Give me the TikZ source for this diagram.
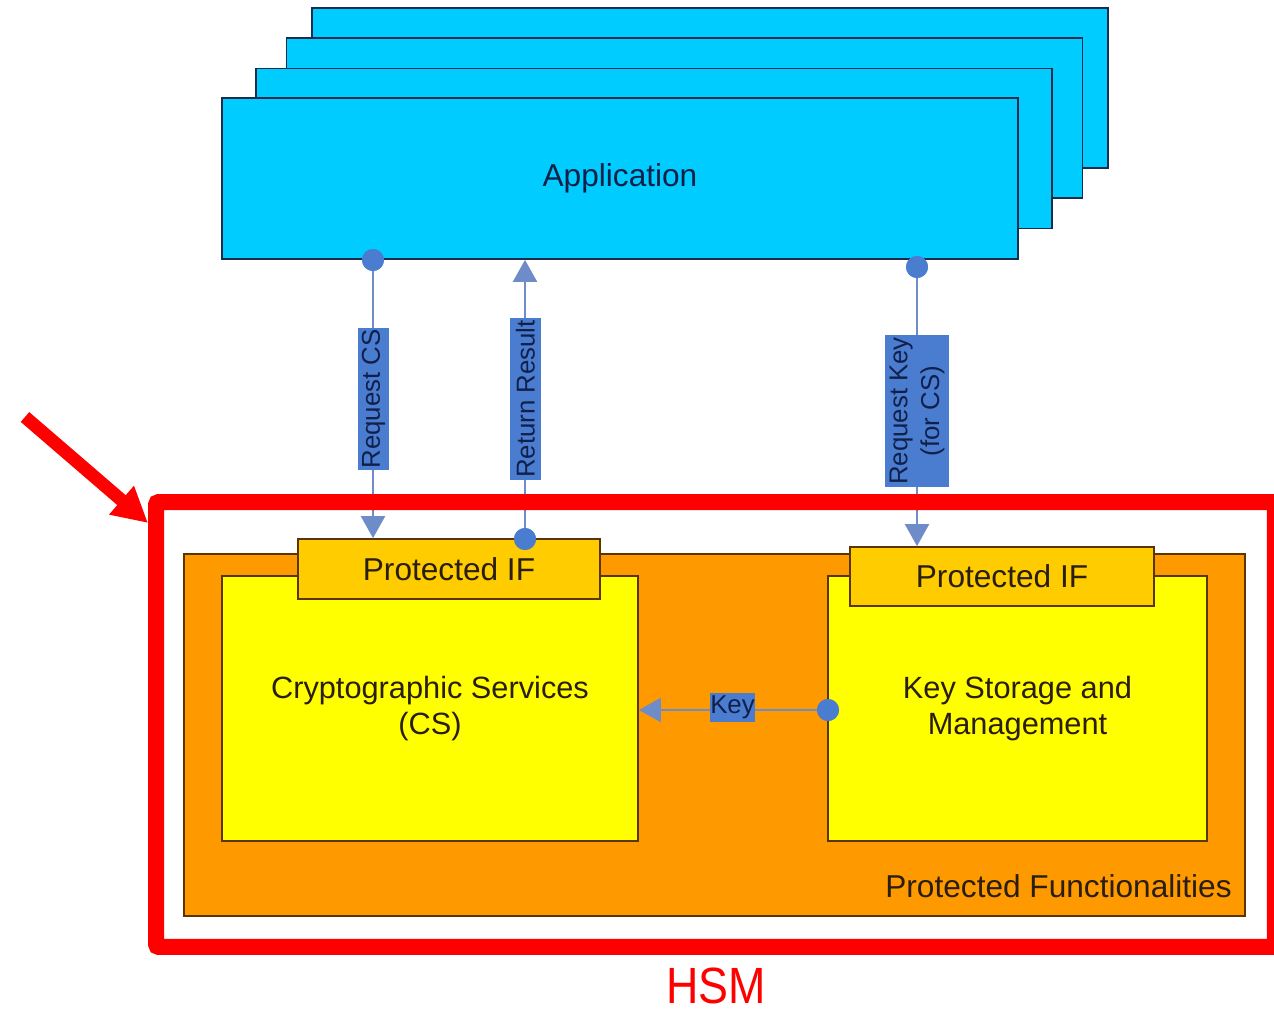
\documentclass[tikz,border=0pt]{standalone}
\usepackage{fontspec}
\setmainfont{Liberation Sans}
\newfontfamily\hsmfont[FakeStretch=0.88]{Liberation Sans}
\usetikzlibrary{arrows.meta}
\definecolor{appcyan}{HTML}{00CCFF}
\definecolor{appedge}{HTML}{1A2C4C}
\definecolor{orangebg}{HTML}{FF9900}
\definecolor{orangeedge}{HTML}{5A3500}
\definecolor{yellowbg}{HTML}{FFFF00}
\definecolor{goldbg}{HTML}{FFCC00}
\definecolor{lblblue}{HTML}{4A7CD0}
\definecolor{linkblue}{HTML}{6E8CC8}
\definecolor{lbltext}{HTML}{10204A}
\definecolor{boxtext}{HTML}{2A1E10}
\definecolor{hsmred}{HTML}{FF0000}
\begin{document}
\begin{tikzpicture}[x=0.02cm,y=-0.02cm,
  appbox/.style={draw=appedge, line width=1pt, fill=appcyan, minimum width=15.92cm, minimum height=3.2cm, inner sep=0},
  areabox/.style={draw=orangeedge, line width=1pt, inner sep=0},
  bigtxt/.style={font=\fontsize{18}{21}\selectfont},
  lbl/.style={fill=lblblue, text=lbltext, font=\fontsize{14.7}{18}\selectfont, inner sep=0, align=center},
  conn/.style={draw=linkblue, line width=1.2pt},
  arr/.style={-{Triangle[length=0.44cm,width=0.48cm]}},
  dot/.style={circle, fill=lblblue, minimum size=0.44cm, inner sep=0},
  redarrow/.style={draw=hsmred, line width=0.26cm, -{Triangle[length=0.7cm,width=0.71cm]}}
]
\useasboundingbox (0,0) rectangle (1274,1013);

% application stack
\node[appbox] (app4) at (710,88) {};
\node[appbox] (app3) at (684.5,118) {};
\node[appbox] (app2) at (654,148.5) {};
\node[appbox, minimum height=3.22cm, text=lbltext, bigtxt] (app) at (620,178.5) {Application};

% protected area
\node[areabox, fill=orangebg, minimum width=21.22cm, minimum height=7.24cm] (area) at (714.5,735) {};
\node[areabox, fill=yellowbg, minimum width=8.32cm, minimum height=5.3cm, text=boxtext, align=center, font=\fontsize{17.5}{20.4}\selectfont] (ylL) at (430,708.5) {Cryptographic Services\\(CS)};
\node[areabox, fill=yellowbg, minimum width=7.58cm, minimum height=5.3cm, text=boxtext, align=center, font=\fontsize{17.5}{20.4}\selectfont] (ylR) at (1017.5,708.5) {Key Storage and\\Management};
\node[areabox, fill=goldbg, minimum width=6.04cm, minimum height=1.2cm, text=boxtext, bigtxt] (pifL) at (449,569) {Protected IF};
\node[areabox, fill=goldbg, minimum width=6.08cm, minimum height=1.18cm, text=boxtext, bigtxt] (pifR) at (1002,576.5) {Protected IF};
\node[anchor=east, text=boxtext, bigtxt, inner sep=0] (pfun) at (1232,886) {Protected Functionalities};

% connectors
\node[dot] (c1) at (373,260) {};
\node[dot] (c2) at (525,539) {};
\node[dot] (c3) at (917,267) {};
\node[dot] (c4) at (828,710) {};
\draw[conn,arr] (c1.center) -- (c1 |- pifL.north);
\draw[conn,arr] (c2.center) -- (c2 |- app.south);
\draw[conn,arr] (c3.center) -- (c3 |- pifR.north);
\draw[conn,arr] (c4.center) -- (c4 -| ylL.east);
\node[dot] at (c1) {};
\node[dot] at (c2) {};
\node[dot] at (c3) {};
\node[dot] at (c4) {};

% connector labels
\node[lbl, rotate=90, minimum width=2.84cm, minimum height=0.62cm] (l1) at (373.5,399) {Request CS};
\node[lbl, rotate=90, minimum width=3.24cm, minimum height=0.62cm] (l2) at (525.5,399) {Return Result};
\node[lbl, rotate=90, minimum width=3.04cm, minimum height=1.28cm] (l3) at (917,411) {Request Key\\(for CS)};
\node[lbl, minimum width=0.9cm, minimum height=0.58cm] (l4) at (732.5,707.5) {Key};

% HSM frame and pointer
\node[draw=hsmred, line width=0.32cm, rounded corners=1.5pt, minimum width=22.38cm, minimum height=8.9cm, inner sep=0] (frame) at (715.5,724.5) {};
\coordinate (tail) at (25,417);
\coordinate (tip) at (148,523);
\draw[redarrow] (tail) -- (tip);
\node[text=hsmred, inner sep=0, font=\hsmfont\fontsize{29}{32}\selectfont] (hsm) at (716,986) {HSM};
\end{tikzpicture}
\end{document}
